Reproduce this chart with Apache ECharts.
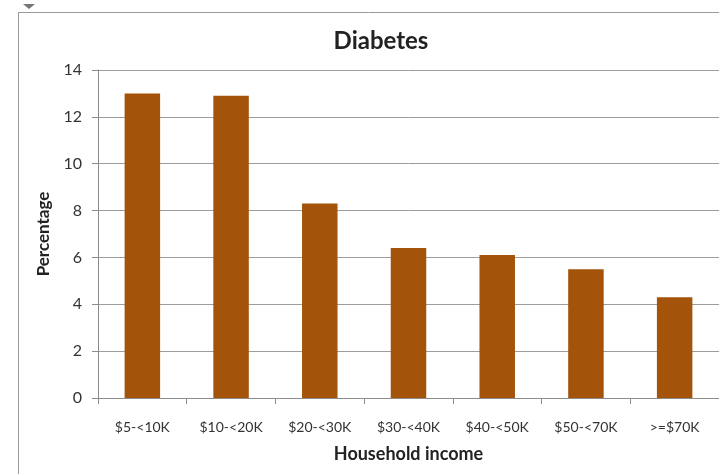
<!DOCTYPE html>
<html>
<head>
<meta charset="utf-8">
<script src="https://cdn.jsdelivr.net/npm/echarts@6/dist/echarts.min.js"></script>
<style>html,body{margin:0;padding:0;background:#fff;}#c{width:719px;height:474px;}</style>
</head>
<body>
<div id="c"></div>
<script>
const categories = ['$5-<10K', '$10-<20K', '$20-<30K', '$30-<40K', '$40-<50K', '$50-<70K', '>=$70K'];
const values = [13.0, 12.9, 8.3, 6.4, 6.1, 5.5, 4.3];
const titleText = 'Diabetes';
const xName = 'Household income';
const yName = 'Percentage';

const chart = echarts.init(document.getElementById('c'), null, {renderer: 'canvas'});
const font = 'Lato, "Open Sans", sans-serif';
chart.setOption({
  animation: false,
  backgroundColor: '#fff',
  textStyle: {fontFamily: font},
  title: {
    text: titleText, left: 376, top: 24, textAlign: 'center',
    textStyle: {fontFamily: font, fontSize: 24, fontWeight: 'bold', color: '#222'}
  },
  graphic: [
    {type: 'line', shape: {x1: 18, y1: 12.5, x2: 719, y2: 12.5}, style: {stroke: '#9a9a9a', lineWidth: 1}, silent: true},
    {type: 'line', shape: {x1: 18.5, y1: 12, x2: 18.5, y2: 474}, style: {stroke: '#9a9a9a', lineWidth: 1}, silent: true},
    {type: 'polygon', shape: {points: [[23, 4], [35, 4], [29, 9]]}, style: {fill: '#777'}, silent: true}
  ],
  grid: {left: 98, right: -1, top: 70, bottom: 76, containLabel: false},
  xAxis: {
    type: 'category', data: categories,
    name: xName, nameLocation: 'middle', nameGap: 47,
    nameTextStyle: {fontFamily: font, fontSize: 18, fontWeight: 'bold', color: '#222'},
    axisLine: {lineStyle: {color: '#8c8c8c'}},
    axisTick: {show: true, length: 6, lineStyle: {color: '#8c8c8c'}, alignWithLabel: false},
    axisLabel: {fontFamily: font, fontSize: 14, color: '#333', margin: 22, interval: 0}
  },
  yAxis: {
    type: 'value', min: 0, max: 14, interval: 2,
    name: yName, nameLocation: 'middle', nameGap: 46, nameRotate: 90,
    nameTextStyle: {fontFamily: font, fontSize: 17, fontWeight: 'bold', color: '#222'},
    axisLine: {show: true, lineStyle: {color: '#8c8c8c'}},
    axisTick: {show: true, length: 6, lineStyle: {color: '#8c8c8c'}},
    axisLabel: {fontFamily: font, fontSize: 16, color: '#333', margin: 16},
    splitLine: {lineStyle: {color: '#9d9d9d', width: 1}}
  },
  series: [{
    type: 'bar', data: values, barWidth: '40%',
    itemStyle: {color: '#a3530a'}
  }]
});
</script>
</body>
</html>
